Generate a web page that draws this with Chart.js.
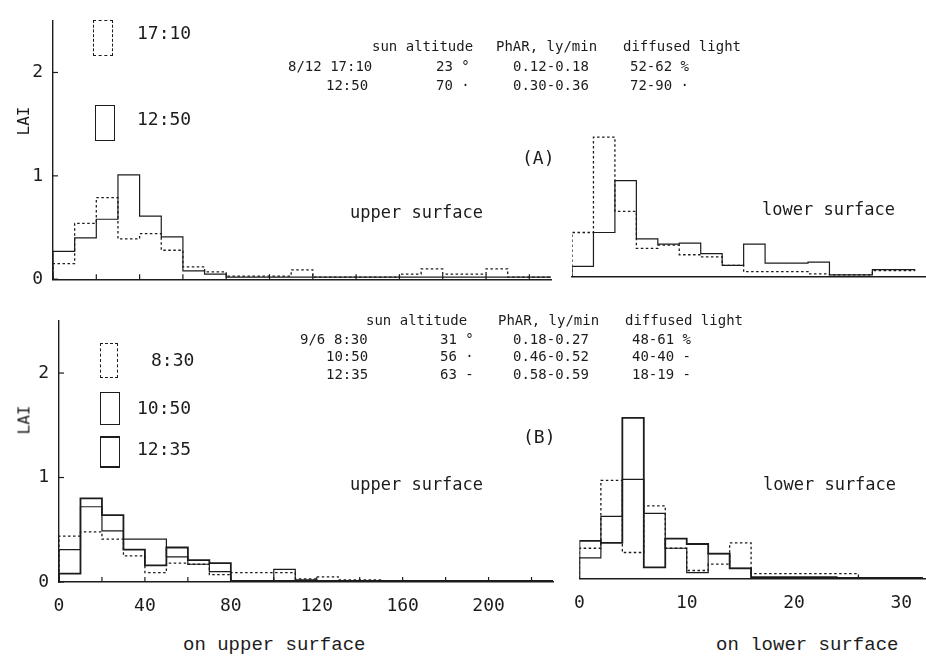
<!DOCTYPE html>
<html>
<head>
<meta charset="utf-8">
<script src="https://cdn.jsdelivr.net/npm/chart.js@4/dist/chart.umd.min.js"></script>
<style>
  html, body { margin: 0; padding: 0; background: #fff; }
  #fig { position: relative; width: 926px; height: 656px; overflow: hidden; background: #fff; }
  canvas { position: absolute; }
  .t { position: absolute; white-space: pre; color: #1c1c1c; font-family: "DejaVu Sans Mono", monospace; }
  .tab { font-size: 14px; line-height: 14px; }
  .leg { font-size: 18px; line-height: 18px; }
  .lab { font-size: 17px; line-height: 17px; }
  .foot { font-family: "Liberation Mono", monospace; font-size: 19px; line-height: 19px; }
  .lai { font-size: 16px; line-height: 16px; transform: rotate(-90deg); transform-origin: center center; }
  .box { position: absolute; border: 1.3px solid #1c1c1c; box-sizing: border-box; }
  .box.dot { border-style: dashed; }
  .box.thick { border-top-width: 2.2px; border-bottom-width: 2.2px; }
</style>
</head>
<body>
<div id="fig">
  <canvas id="cA1" width="560" height="300" style="left:0;top:0"></canvas>
  <canvas id="cA2" width="366" height="300" style="left:560px;top:0"></canvas>
  <canvas id="cB1" width="560" height="330" style="left:0;top:300px"></canvas>
  <canvas id="cB2" width="366" height="330" style="left:560px;top:300px"></canvas>

  <!-- panel (A) key -->
  <div class="box dot" style="left:93px;top:20px;width:20px;height:36px"></div>
  <div class="t leg" style="left:137px;top:24px">17:10</div>
  <div class="box" style="left:95px;top:105px;width:20px;height:36px"></div>
  <div class="t leg" style="left:137px;top:110px">12:50</div>

  <!-- panel (A) conditions -->
  <div class="t tab" style="left:372px;top:39px">sun altitude</div>
  <div class="t tab" style="left:496px;top:39px">PhAR, ly/min</div>
  <div class="t tab" style="left:623px;top:39px">diffused light</div>
  <div class="t tab" style="left:288px;top:59px">8/12 17:10</div>
  <div class="t tab" style="left:436px;top:59px">23 °</div>
  <div class="t tab" style="left:513px;top:59px">0.12-0.18</div>
  <div class="t tab" style="left:630px;top:59px">52-62 %</div>
  <div class="t tab" style="left:326px;top:78px">12:50</div>
  <div class="t tab" style="left:436px;top:78px">70 ·</div>
  <div class="t tab" style="left:513px;top:78px">0.30-0.36</div>
  <div class="t tab" style="left:630px;top:78px">72-90 ·</div>

  <div class="t leg" style="left:522px;top:149px">(A)</div>
  <div class="t lab" style="left:350px;top:204px">upper surface</div>
  <div class="t lab" style="left:762px;top:201px">lower surface</div>

  <!-- panel (B) key -->
  <div class="box dot" style="left:100px;top:343px;width:18px;height:35px"></div>
  <div class="t leg" style="left:151px;top:351px">8:30</div>
  <div class="box" style="left:100px;top:392px;width:20px;height:33px"></div>
  <div class="t leg" style="left:137px;top:399px">10:50</div>
  <div class="box thick" style="left:100px;top:436px;width:20px;height:32px"></div>
  <div class="t leg" style="left:137px;top:440px">12:35</div>

  <!-- panel (B) conditions -->
  <div class="t tab" style="left:366px;top:313px">sun altitude</div>
  <div class="t tab" style="left:498px;top:313px">PhAR, ly/min</div>
  <div class="t tab" style="left:625px;top:313px">diffused light</div>
  <div class="t tab" style="left:300px;top:332px">9/6</div>
  <div class="t tab" style="left:334px;top:332px">8:30</div>
  <div class="t tab" style="left:440px;top:332px">31 °</div>
  <div class="t tab" style="left:513px;top:332px">0.18-0.27</div>
  <div class="t tab" style="left:632px;top:332px">48-61 %</div>
  <div class="t tab" style="left:326px;top:349px">10:50</div>
  <div class="t tab" style="left:440px;top:349px">56 ·</div>
  <div class="t tab" style="left:513px;top:349px">0.46-0.52</div>
  <div class="t tab" style="left:632px;top:349px">40-40 -</div>
  <div class="t tab" style="left:326px;top:367px">12:35</div>
  <div class="t tab" style="left:440px;top:367px">63 -</div>
  <div class="t tab" style="left:513px;top:367px">0.58-0.59</div>
  <div class="t tab" style="left:632px;top:367px">18-19 -</div>

  <div class="t leg" style="left:523px;top:428px">(B)</div>
  <div class="t lab" style="left:350px;top:476px">upper surface</div>
  <div class="t lab" style="left:763px;top:476px">lower surface</div>

  <!-- axis names -->
  <div class="t lai" style="left:10px;top:113px">LAI</div>
  <div class="t lai" style="left:10px;top:412px">LAI</div>
  <div class="t foot" style="left:183px;top:636px">on upper surface</div>
  <div class="t foot" style="left:716px;top:636px">on lower surface</div>
</div>

<script>
// Leaf area index per inclination bin; upper-surface bins are 10 wide, lower-surface bins 2 wide.
const upperBin = 10;
const lowerBin = 2;

// (A) 8/12, upper surface
const aUpper1710 = [0.15, 0.54, 0.79, 0.39, 0.44, 0.28, 0.12, 0.07, 0.03, 0.03, 0.03, 0.09,
                    0.02, 0.02, 0.02, 0.02, 0.05, 0.10, 0.05, 0.05, 0.10, 0.02, 0.02];
const aUpper1250 = [0.27, 0.40, 0.58, 1.01, 0.61, 0.41, 0.08, 0.05, 0.02, 0.02, 0.02, 0.02,
                    0.02, 0.02, 0.02, 0.02, 0.02, 0.02, 0.02, 0.02, 0.02, 0.02, 0.02];
// (A) 8/12, lower surface
const aLower1710 = [0.42, 1.32, 0.62, 0.27, 0.30, 0.21, 0.19, 0.11, 0.05, 0.05, 0.05, 0.03,
                    0.02, 0.02, 0.06, 0.06];
const aLower1250 = [0.10, 0.42, 0.91, 0.36, 0.31, 0.32, 0.22, 0.11, 0.31, 0.13, 0.13, 0.14,
                    0.02, 0.02, 0.07, 0.07];

// (B) 9/6, upper surface
const bUpper0830 = [0.44, 0.48, 0.41, 0.25, 0.09, 0.18, 0.17, 0.07, 0.09, 0.09, 0.09, 0.03,
                    0.05, 0.02, 0.02, 0.01, 0.01, 0.01, 0.01, 0.01, 0.01, 0.01, 0.01];
const bUpper1050 = [0.31, 0.72, 0.49, 0.41, 0.41, 0.24, 0.17, 0.10, 0.01, 0.01, 0.12, 0.02,
                    0.01, 0.01, 0.01, 0.01, 0.01, 0.01, 0.01, 0.01, 0.01, 0.01, 0.01];
const bUpper1235 = [0.08, 0.80, 0.64, 0.31, 0.16, 0.33, 0.21, 0.18, 0.01, 0.01, 0.01, 0.01,
                    0.01, 0.01, 0.01, 0.01, 0.01, 0.01, 0.01, 0.01, 0.01, 0.01, 0.01];
// (B) 9/6, lower surface
const bLower0830 = [0.29, 0.93, 0.25, 0.69, 0.29, 0.08, 0.14, 0.34, 0.05, 0.05, 0.05, 0.05,
                    0.05, 0.01, 0.01, 0.01];
const bLower1050 = [0.20, 0.59, 0.94, 0.62, 0.29, 0.06, 0.24, 0.10, 0.02, 0.02, 0.02, 0.02,
                    0.01, 0.01, 0.01, 0.01];
const bLower1235 = [0.36, 0.34, 1.52, 0.11, 0.38, 0.33, 0.24, 0.10, 0.01, 0.01, 0.01, 0.01,
                    0.01, 0.01, 0.01, 0.01];

// axis ranges and tick steps
const lai = { min: 0, max: 2.5, step: 1 };
const upperAxis = { min: 0, max: 230, step: 20, labelEvery: 40 };
const lowerAxisA = { min: 0, max: 33, step: 10 };
const lowerAxisB = { min: 0, max: 32.3, step: 10 };

const INK = '#1c1c1c';
const MONO = '"DejaVu Sans Mono", monospace';

// histogram outline: start at zero on the left edge, one point per bin edge
function steps(vals, w) {
  const pts = [{ x: 0, y: 0 }];
  vals.forEach((v, i) => pts.push({ x: i * w, y: v }));
  pts.push({ x: vals.length * w, y: vals[vals.length - 1] });
  return pts;
}

function series(label, vals, w, style) {
  return Object.assign({
    label,
    data: steps(vals, w),
    stepped: true,
    borderColor: INK,
    borderWidth: 1.3,
    pointRadius: 0,
    fill: false,
    tension: 0
  }, style);
}
const dotted = { borderDash: [2.5, 2.5], borderWidth: 1.3 };
const thin = { borderWidth: 1.2 };
const thick = { borderWidth: 1.8 };

// short tick marks drawn inside the plot, at the scale's own ticks
const innerTicks = {
  id: 'innerTicks',
  afterDatasetsDraw(chart, args, opts) {
    const ids = opts.scales || [];
    const len = opts.len || 5;
    const ctx = chart.ctx;
    ctx.save();
    ctx.strokeStyle = INK;
    ctx.lineWidth = 1.2;
    ids.forEach(id => {
      const s = chart.scales[id];
      s.ticks.forEach((t, i) => {
        const p = s.getPixelForTick(i);
        ctx.beginPath();
        if (s.isHorizontal()) { ctx.moveTo(p, s.top); ctx.lineTo(p, s.top - len); }
        else { ctx.moveTo(s.right, p); ctx.lineTo(s.right + len, p); }
        ctx.stroke();
      });
    });
    ctx.restore();
  }
};

function makeChart(id, datasets, cfg) {
  const xs = cfg.xAxis;
  return new Chart(document.getElementById(id), {
    type: 'line',
    data: { datasets },
    plugins: [innerTicks],
    options: {
      responsive: false,
      animation: false,
      events: [],
      layout: { padding: cfg.padding },
      plugins: {
        legend: { display: false },
        tooltip: { enabled: false },
        innerTicks: { scales: cfg.innerTicks, len: 5 }
      },
      scales: {
        x: {
          type: 'linear',
          min: xs.min, max: xs.max,
          afterFit: s => { s.height = cfg.xHeight; },
          grid: { display: false, drawTicks: false },
          border: { display: true, color: INK, width: 1.4 },
          ticks: {
            display: cfg.xLabels,
            stepSize: xs.step,
            includeBounds: false,
            padding: 14,
            color: INK,
            font: { family: MONO, size: 18 },
            maxRotation: 0,
            autoSkip: false,
            callback: v => (xs.labelEvery ? (v % xs.labelEvery === 0 ? v : '') : v)
          }
        },
        y: {
          type: 'linear',
          display: cfg.yAxis,
          min: lai.min, max: lai.max,
          afterFit: s => { s.width = cfg.yWidth; },
          grid: { display: false, drawTicks: false },
          border: { display: true, color: INK, width: 1.4 },
          ticks: {
            stepSize: lai.step,
            includeBounds: false,
            padding: 10,
            color: INK,
            font: { family: MONO, size: 18 }
          }
        }
      }
    }
  });
}

// (A) upper surface
makeChart('cA1', [
  series('17:10', aUpper1710, upperBin, dotted),
  series('12:50', aUpper1250, upperBin, thin)
], {
  xAxis: upperAxis, xLabels: false, xHeight: 17, yAxis: true, yWidth: 53,
  padding: { top: 18, right: 9, left: 0, bottom: 0 }, innerTicks: ['x', 'y']
});

// (A) lower surface
makeChart('cA2', [
  series('17:10', aLower1710, lowerBin, dotted),
  series('12:50', aLower1250, lowerBin, thin)
], {
  xAxis: lowerAxisA, xLabels: false, xHeight: 23, yAxis: false, yWidth: 0,
  padding: { top: 12, right: 0, left: 12, bottom: 0 }, innerTicks: []
});

// (B) upper surface
makeChart('cB1', [
  series('8:30', bUpper0830, upperBin, dotted),
  series('10:50', bUpper1050, upperBin, thin),
  series('12:35', bUpper1235, upperBin, thick)
], {
  xAxis: upperAxis, xLabels: true, xHeight: 48, yAxis: true, yWidth: 59,
  padding: { top: 17, right: 7, left: 0, bottom: 0 }, innerTicks: ['x', 'y']
});

// (B) lower surface
makeChart('cB2', [
  series('8:30', bLower0830, lowerBin, dotted),
  series('10:50', bLower1050, lowerBin, thin),
  series('12:35', bLower1235, lowerBin, thick)
], {
  xAxis: lowerAxisB, xLabels: true, xHeight: 51, yAxis: false, yWidth: 0,
  padding: { top: 14, right: 0, left: 17, bottom: 0 }, innerTicks: []
});
</script>
</body>
</html>
